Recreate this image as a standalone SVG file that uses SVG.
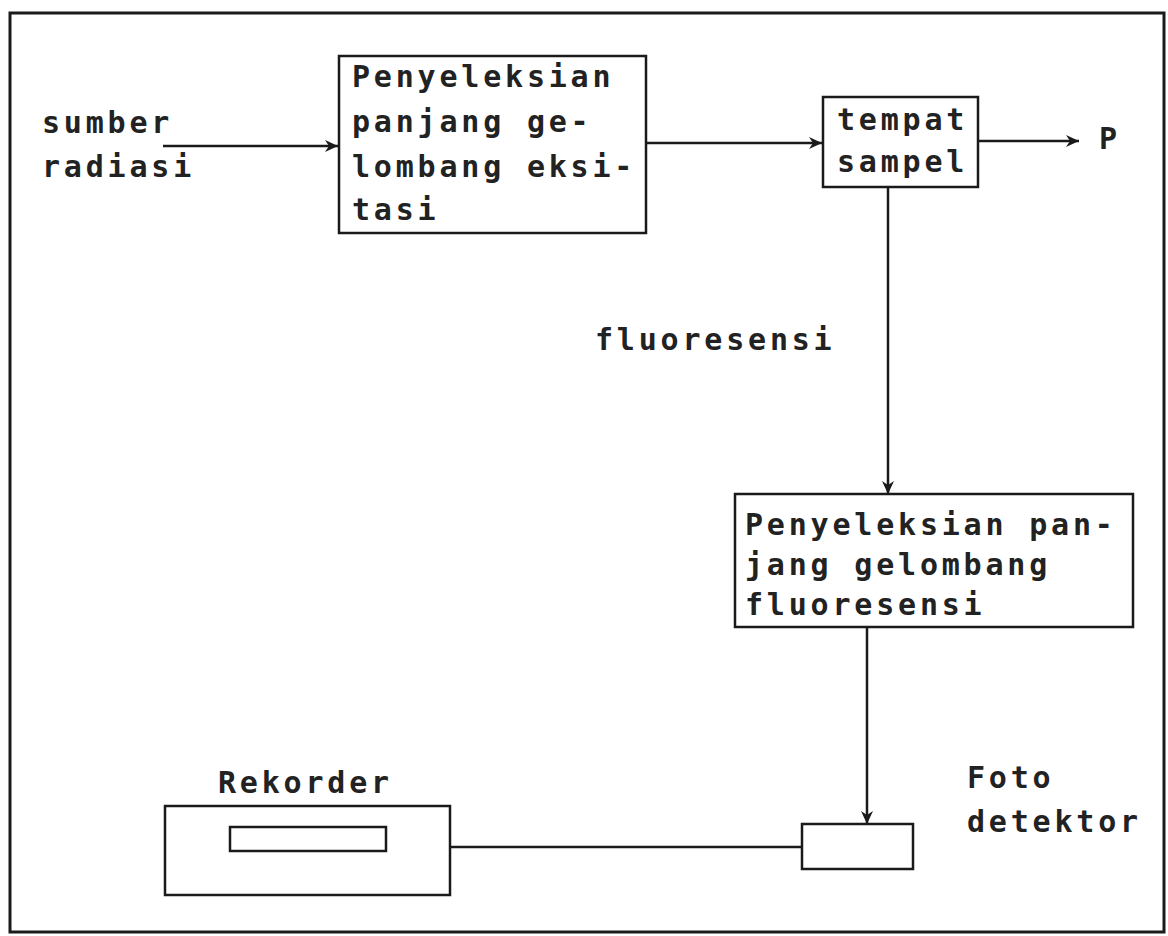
<svg xmlns="http://www.w3.org/2000/svg" width="1168" height="936" viewBox="0 0 1168 936">
<style>
.t{font-family:"DejaVu Sans Mono","Liberation Mono",monospace;font-size:30px;font-weight:bold;letter-spacing:3.8px;fill:#222}
.box{fill:none;stroke:#1a1a1a;stroke-width:2.5}
.ln{fill:none;stroke:#1a1a1a;stroke-width:2.5}
</style>
<defs>
<marker id="ah" markerUnits="userSpaceOnUse" markerWidth="16" markerHeight="14" refX="14" refY="7" orient="auto">
<path d="M1,1 L14,7 L1,13 L5,7 Z" fill="#1a1a1a"/>
</marker>
</defs>
<rect width="1168" height="936" fill="#fff"/>
<rect x="10" y="13" width="1154" height="919" fill="none" stroke="#1a1a1a" stroke-width="3"/>

<g id="sumber">
<text class="t" x="42" y="133">sumber</text>
<text class="t" x="42" y="177">radiasi</text>
</g>

<g id="seleksi-eksitasi">
<rect class="box" x="339" y="56" width="307" height="177"/>
<text class="t" x="352" y="87">Penyeleksian</text>
<text class="t" x="352" y="132">panjang ge-</text>
<text class="t" x="352" y="177">lombang eksi-</text>
<text class="t" x="352" y="220">tasi</text>
</g>

<g id="sampel">
<rect class="box" x="823" y="97" width="155" height="90"/>
<text class="t" x="837" y="130">tempat</text>
<text class="t" x="837" y="172">sampel</text>
</g>

<g id="P">
<text class="t" x="1099" y="149">P</text>
</g>

<g id="fluoresensi-label">
<text class="t" x="595" y="350">fluoresensi</text>
</g>

<g id="seleksi-fluoresensi">
<rect class="box" x="735" y="494" width="398" height="133"/>
<text class="t" x="745" y="535">Penyeleksian pan-</text>
<text class="t" x="745" y="575">jang gelombang</text>
<text class="t" x="745" y="615">fluoresensi</text>
</g>

<g id="detektor">
<rect class="box" x="802" y="824" width="111" height="45"/>
<text class="t" x="967" y="788">Foto</text>
<text class="t" x="967" y="832">detektor</text>
</g>

<g id="rekorder">
<text class="t" x="218" y="793">Rekorder</text>
<rect class="box" x="165" y="806" width="285" height="89"/>
<rect class="box" x="230" y="827" width="156" height="24"/>
</g>

<g id="connectors">
<line class="ln" x1="163" y1="146" x2="338" y2="146" marker-end="url(#ah)"/>
<line class="ln" x1="646" y1="143" x2="822" y2="143" marker-end="url(#ah)"/>
<line class="ln" x1="978" y1="141" x2="1079" y2="141" marker-end="url(#ah)"/>
<line class="ln" x1="888" y1="187" x2="888" y2="494" marker-end="url(#ah)"/>
<line class="ln" x1="867" y1="627" x2="867" y2="824" marker-end="url(#ah)"/>
<line class="ln" x1="450" y1="847" x2="802" y2="847"/>
</g>
</svg>
